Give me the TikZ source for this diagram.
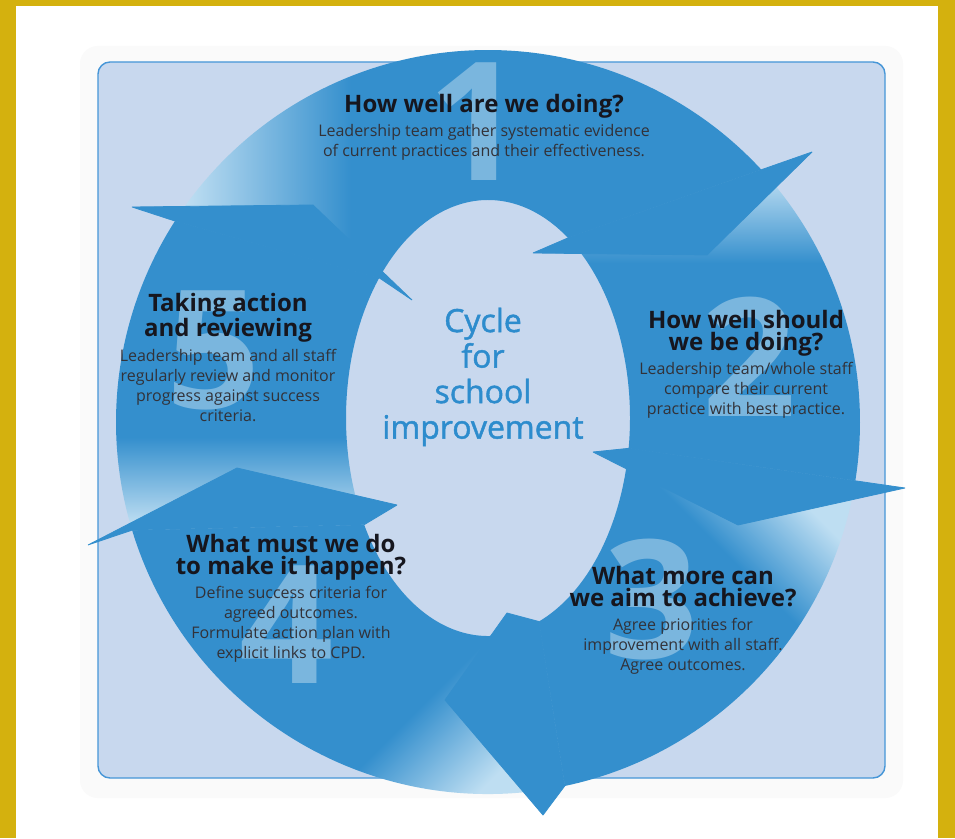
\documentclass[tikz,border=0pt]{standalone}
\usepackage{fontspec}
\setmainfont{Open Sans}
\newfontfamily\titlefont{Open Sans}[FakeBold=1.4]
\usetikzlibrary{positioning,calc}

\definecolor{framegold}{RGB}{212,177,14}
\definecolor{arrowblue}{RGB}{52,143,205}
\definecolor{tailblue}{RGB}{190,222,242}
\definecolor{panel}{RGB}{200,216,238}
\definecolor{panelline}{RGB}{70,150,215}
\definecolor{inktext}{RGB}{22,22,30}
\definecolor{titleblue}{RGB}{45,140,205}
\pgfdeclarehorizontalshading{tailfade}{100bp}{color(0bp)=(tailblue); color(26bp)=(tailblue); color(40bp)=(arrowblue); color(100bp)=(arrowblue)}

\begin{document}
\begin{tikzpicture}[x=1pt,y=1pt,
    hd/.style={align=center,inner sep=0pt,text=inktext,text depth=5.5pt,
      font=\bfseries\fontsize{24}{22.5}\selectfont},
    bd/.style={align=center,inner sep=0pt,text=inktext!88,
      font=\fontsize{16}{20}\selectfont},
    bignum/.style={inner sep=0pt,text=white,text opacity=0.35,
      font=\bfseries\fontsize{165}{165}\selectfont},
    tailshade/.style={shading=tailfade,shading angle=#1},
    headfill/.style={fill=arrowblue,draw=arrowblue,line width=0.8pt,line join=bevel},
    node distance=6pt]
  \useasboundingbox (0,0) rectangle (955,838);
  % frame and panel
  \fill[framegold] (0,0) rectangle (955,838);
  \fill[white] (16,0) rectangle (938,832);
  \fill[black!2,rounded corners=18pt] (80,40) rectangle (903,792);
  \filldraw[fill=panel,draw=panelline,line width=1.4pt,rounded corners=12pt]
    (98,60) rectangle (885,776);
  % ring centres, and where each head meets its body
  \coordinate (Co) at (488,416);
  \coordinate (Ci) at (488,420);
  \coordinate (o1) at ($(Co)+(42.7:372pt)$);
  \coordinate (o2) at ($(Co)+(-9.1:372pt)$);
  \coordinate (o3) at ($(Co)+(-78.1:372pt)$);
  \coordinate (o4) at ($(Co)+(196.9:372pt)$);
  \coordinate (o5) at ($(Co)+(147.3:372pt)$);
  \coordinate (i1) at ($(Ci)+(55.7:142pt and 218pt)$);
  \coordinate (i2) at ($(Ci)+(-8:142pt and 218pt)$);
  \coordinate (i3) at ($(Ci)+(-69:142pt and 218pt)$);
  \coordinate (i4) at ($(Ci)+(209.3:142pt and 218pt)$);
  \coordinate (i5) at ($(Ci)+(140:142pt and 218pt)$);
  % arrow bodies
  \shade[tailshade=0] (o5) arc[start angle=147.3,end angle=42.7,radius=372pt]
    -- (i1) arc[start angle=55.7,end angle=140,x radius=142pt,y radius=218pt] -- cycle;
  \shade[tailshade=-90] (o1) arc[start angle=42.7,end angle=-9.1,radius=372pt]
    -- (i2) arc[start angle=-8,end angle=55.7,x radius=142pt,y radius=218pt] -- cycle;
  \shade[tailshade=-135] (o2) arc[start angle=-9.1,end angle=-78.1,radius=372pt]
    -- (i3) arc[start angle=-69,end angle=-8,x radius=142pt,y radius=218pt] -- cycle;
  \shade[tailshade=135] (o3) arc[start angle=-78.1,end angle=-163.1,radius=372pt]
    -- (i4) arc[start angle=-150.7,end angle=-69,x radius=142pt,y radius=218pt] -- cycle;
  \shade[tailshade=90] (o4) arc[start angle=196.9,end angle=147.3,radius=372pt]
    -- (i5) arc[start angle=140,end angle=209.3,x radius=142pt,y radius=218pt] -- cycle;
  % arrow heads
  \filldraw[headfill] (o1) -- (812,686) -- (707,583) -- (533,585) -- (i1) -- cycle;
  \filldraw[headfill] (o2) -- (905,350) -- (738,313) -- (593,386) -- (i2) -- cycle;
  \filldraw[headfill] (o3) -- (543,23) -- (445,138) -- (507,225) -- (i3) -- cycle;
  \filldraw[headfill] (o4) -- (88,293) -- (237,370) -- (397,333) -- (i4) -- cycle;
  \filldraw[headfill] (o5) -- (132,631) -- (313,633) -- (412,538) -- (i5) -- cycle;
  % big step numbers
  \node[bignum] (n1) at (476,716) {1};
  \node[bignum] (n2) at (750,481) {2};
  \node[bignum] (n3) at (652,238) {3};
  \node[bignum] (n4) at (287,213) {4};
  \node[bignum] (n5) at (214,488) {5};
  % centre title
  \node[align=center,inner sep=0pt,text=titleblue,font=\titlefont\fontsize{32}{35.5}\selectfont]
    (title) at (483,461) {Cycle\\for\\school\\improvement};
  % step texts
  \node[hd] (h1) at (484,732) {How well are we doing?};
  \node[bd,below=of h1] (b1) {Leadership team gather systematic evidence\\of current practices and their effectiveness.};
  \node[hd] (h2) at (746,505) {How well should\\we be doing?};
  \node[bd,below=of h2] (b2) {Leadership team/whole staff\\compare their current\\practice with best practice.};
  \node[hd] (h3) at (683,249) {What more can\\we aim to achieve?};
  \node[bd,below=of h3] (b3) {Agree priorities for\\improvement with all staff.\\Agree outcomes.};
  \node[hd] (h4) at (291,281) {What must we do\\to make it happen?};
  \node[bd,below=of h4] (b4) {Define success criteria for\\agreed outcomes.\\Formulate action plan with\\explicit links to CPD.};
  \node[hd] (h5) at (228,520) {Taking action\\and reviewing};
  \node[bd,below=of h5] (b5) {Leadership team and all staff\\regularly review and monitor\\progress against success\\criteria.};
\end{tikzpicture}
\end{document}
